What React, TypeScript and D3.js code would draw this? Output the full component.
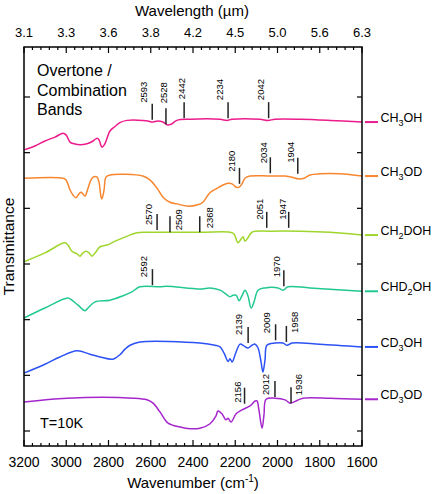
import React from "react";
import * as d3 from "d3";

// ---------- data ----------
const wavenumberTicks = [3200, 3000, 2800, 2600, 2400, 2200, 2000, 1800, 1600];
const wavelengthLabels = ["3.1", "3.3", "3.6", "3.8", "4.2", "4.5", "5.0", "5.6", "6.3"];
const yTicks = [0, 1, 2, 3, 4, 5, 6];

const seriesNames = ["CH3OH", "CH3OD", "CH2DOH", "CHD2OH", "CD3OH", "CD3OD"];
const seriesColors = ["#ec1c8c", "#f7862f", "#9fd62c", "#22c892", "#2c52f5", "#a526cc"];

const ch3oh: [number, number][] = [
  [3200, 5.05], [3148, 5.12], [3101, 5.21], [3053, 5.28], [3015, 5.35], [3001, 5.32],
  [2982, 5.19], [2963, 5.16], [2935, 5.14], [2902, 5.16], [2873, 5.21], [2854, 5.26],
  [2845, 5.23], [2831, 5.1], [2817, 5.16], [2793, 5.39], [2769, 5.47], [2746, 5.54],
  [2712, 5.58], [2637, 5.58], [2613, 5.57], [2594, 5.55], [2566, 5.57], [2542, 5.55],
  [2523, 5.5], [2504, 5.51], [2476, 5.58], [2414, 5.6], [2272, 5.6], [2239, 5.58],
  [2215, 5.6], [2083, 5.6], [2045, 5.58], [2012, 5.6], [1893, 5.6], [1751, 5.58], [1600, 5.55],
];
const ch3od: [number, number][] = [
  [3200, 4.54], [3015, 4.54], [3001, 4.51], [2982, 4.33], [2968, 4.24], [2954, 4.19],
  [2940, 4.26], [2930, 4.29], [2921, 4.26], [2911, 4.22], [2897, 4.36], [2883, 4.51],
  [2873, 4.56], [2854, 4.56], [2845, 4.47], [2835, 4.2], [2831, 4.17], [2821, 4.33],
  [2812, 4.56], [2793, 4.6], [2637, 4.58], [2604, 4.51], [2570, 4.36], [2542, 4.2],
  [2509, 4.11], [2476, 4.08], [2428, 4.04], [2381, 4.06], [2353, 4.11], [2320, 4.28],
  [2286, 4.36], [2258, 4.42], [2234, 4.45], [2215, 4.44], [2196, 4.38], [2182, 4.38],
  [2168, 4.44], [2154, 4.54], [2130, 4.58], [2035, 4.58], [1964, 4.58], [1931, 4.56],
  [1903, 4.53], [1874, 4.54], [1846, 4.6], [1799, 4.62], [1704, 4.62], [1600, 4.58],
];
const ch2doh: [number, number][] = [
  [3200, 3.04], [3101, 3.2], [3006, 3.38], [2992, 3.34], [2973, 3.23], [2949, 3.18],
  [2935, 3.14], [2921, 3.2], [2906, 3.23], [2892, 3.2], [2878, 3.14], [2859, 3.22],
  [2840, 3.31], [2807, 3.34], [2769, 3.41], [2731, 3.47], [2665, 3.56], [2618, 3.57],
  [2367, 3.57], [2225, 3.57], [2206, 3.54], [2187, 3.38], [2172, 3.45], [2163, 3.49],
  [2154, 3.41], [2140, 3.47], [2121, 3.57], [2035, 3.59], [1893, 3.59], [1751, 3.57], [1600, 3.52],
];
const chd2oh: [number, number][] = [
  [3200, 2.03], [3101, 2.21], [2992, 2.39], [2973, 2.35], [2944, 2.26], [2911, 2.16],
  [2897, 2.21], [2864, 2.32], [2793, 2.35], [2731, 2.43], [2689, 2.5], [2651, 2.59],
  [2556, 2.59], [2523, 2.6], [2367, 2.55], [2319, 2.57], [2272, 2.53], [2244, 2.46],
  [2225, 2.41], [2211, 2.44], [2196, 2.44], [2182, 2.34], [2168, 2.43], [2154, 2.53],
  [2140, 2.43], [2125, 2.21], [2111, 2.32], [2092, 2.53], [2059, 2.57], [1998, 2.57],
  [1974, 2.53], [1950, 2.59], [1846, 2.57], [1600, 2.51],
];
const cd3oh: [number, number][] = [
  [3200, 1.04], [3101, 1.2], [3030, 1.33], [2949, 1.44], [2888, 1.38], [2840, 1.33],
  [2779, 1.29], [2746, 1.37], [2722, 1.47], [2698, 1.54], [2651, 1.6], [2367, 1.58],
  [2296, 1.54], [2272, 1.51], [2253, 1.4], [2234, 1.25], [2225, 1.3], [2215, 1.24],
  [2196, 1.42], [2177, 1.56], [2159, 1.53], [2140, 1.49], [2121, 1.54], [2106, 1.56],
  [2092, 1.49], [2078, 1.24], [2069, 1.06], [2059, 1.28], [2050, 1.54], [2012, 1.58],
  [1974, 1.58], [1955, 1.54], [1931, 1.58], [1799, 1.56], [1600, 1.51],
];
const cd3od: [number, number][] = [
  [3200, 0.52], [2996, 0.59], [2684, 0.59], [2618, 0.56], [2589, 0.5], [2556, 0.34],
  [2518, 0.14], [2461, 0.07], [2414, 0.04], [2367, 0.05], [2319, 0.13], [2291, 0.27],
  [2282, 0.36], [2263, 0.31], [2244, 0.2], [2234, 0.23], [2220, 0.16], [2196, 0.31],
  [2168, 0.38], [2130, 0.45], [2106, 0.54], [2097, 0.54], [2088, 0.38], [2073, 0.05],
  [2064, 0.29], [2054, 0.57], [2012, 0.59], [1964, 0.56], [1941, 0.5], [1912, 0.54],
  [1879, 0.59], [1751, 0.59], [1600, 0.57],
];
const seriesData = [ch3oh, ch3od, ch2doh, chd2oh, cd3oh, cd3od];

// band markers: wavenumber, level of line foot
const bandWavenumbers = [2593, 2528, 2442, 2234, 2042, 2180, 2034, 1904, 2570, 2509, 2368, 2051, 1947, 2592, 1970, 2139, 2009, 1958, 2156, 2012, 1936];
const bandLevels = [5.59, 5.51, 5.62, 5.62, 5.62, 4.44, 4.63, 4.62, 3.61, 3.57, 3.57, 3.65, 3.65, 2.62, 2.6, 1.58, 1.63, 1.6, 0.49, 0.61, 0.5];
// label placement (px offsets: dx from line, dy from line foot)
const bandLabelDx = [-9, -2, -2, -8, -8, -8, -7, -7, -8, 9, 9.5, -7, -6, -8.5, -7, -9, -9, 8.5, -7, -9, 8];
const bandLabelDy = [-17, -21, -19, -18, -18, -12, -10, -11, -5, -2, -4, -8, -8, -8, -9, -8, -7, -9, -1, -2, -8];

// ---------- layout ----------
const W = 432, H = 494;
const L = 24, R = 362, T = 47, B = 446;
const FONT = "Arial, 'Liberation Sans', Helvetica, sans-serif";

function Formula({ name, x, y, size }: { name: string; x: number; y: number; size: number }) {
  const parts = name.match(/[A-Za-z]+|\d+/g) || [];
  const out: React.ReactNode[] = [];
  let shifted = false;
  parts.forEach((p, i) => {
    if (/\d/.test(p)) {
      out.push(<tspan key={i} fontSize={size * 0.72} dy={size * 0.3}>{p}</tspan>);
      shifted = true;
    } else {
      out.push(<tspan key={i} dy={shifted ? -size * 0.3 : 0}>{p}</tspan>);
      shifted = false;
    }
  });
  return (
    <text x={x} y={y} fontSize={size} fontFamily={FONT} dy="0.35em">{out}</text>
  );
}

export default function App() {
  const x = d3.scaleLinear().domain([3200, 1600]).range([L, R]);
  const y = d3.scaleLinear().domain([0, 6]).range([431, 97]);
  const line = d3
    .line<[number, number]>()
    .x((d) => x(d[0]))
    .y((d) => y(d[1]))
    .curve(d3.curveCatmullRom.alpha(0.5));

  const minor = d3.range(3200, 1599, -40);

  return (
    <svg width={W} height={H} style={{ position: "absolute", left: 0, top: 0, background: "#fff" }}>
      {/* curves */}
      {seriesData.map((s, i) => (
        <path key={i} d={line(s) || ""} fill="none" stroke={seriesColors[i]} strokeWidth={1.5} />
      ))}

      {/* frame */}
      <rect x={L} y={T} width={R - L} height={B - T} fill="none" stroke="#000" strokeWidth={1.5} />

      {/* bottom & top ticks */}
      {minor.map((w) => {
        const major = wavenumberTicks.includes(w);
        const len = major ? 6 : 3;
        return (
          <g key={w}>
            <line x1={x(w)} x2={x(w)} y1={B} y2={B - len} stroke="#000" strokeWidth={1.2} />
            <line x1={x(w)} x2={x(w)} y1={T} y2={T + len} stroke="#000" strokeWidth={1.2} />
          </g>
        );
      })}
      {wavenumberTicks.map((w) => (
        <text key={"b" + w} x={x(w)} y={466.5} fontSize={14} fontFamily={FONT} textAnchor="middle">{w}</text>
      ))}
      {wavenumberTicks.map((w, i) => (
        <text key={"t" + w} x={x(w)} y={37} fontSize={13} fontFamily={FONT} textAnchor="middle">{wavelengthLabels[i]}</text>
      ))}

      {/* y ticks */}
      {yTicks.map((v) => (
        <g key={v}>
          <line x1={L} x2={L + 6} y1={y(v)} y2={y(v)} stroke="#000" strokeWidth={1.2} />
          <line x1={R} x2={R - 5} y1={y(v)} y2={y(v)} stroke="#000" strokeWidth={1.2} />
        </g>
      ))}

      {/* axis titles */}
      <text x={192} y={16} fontSize={15} fontFamily={FONT} textAnchor="middle">Wavelength (µm)</text>
      <text x={193} y={488} fontSize={15} fontFamily={FONT} textAnchor="middle">
        Wavenumber (cm<tspan fontSize={10} dy={-6}>-1</tspan><tspan dy={6}>)</tspan>
      </text>
      <text transform={`translate(8.5,${(T + B) / 2}) rotate(-90)`} fontSize={15.5} fontFamily={FONT} textAnchor="middle" dy="0.35em">Transmittance</text>

      {/* annotations */}
      <text x={37} y={76} fontSize={16} fontFamily={FONT}>Overtone /</text>
      <text x={37} y={95.5} fontSize={16} fontFamily={FONT}>Combination</text>
      <text x={37} y={114.5} fontSize={16} fontFamily={FONT}>Bands</text>
      <text x={40} y={428} fontSize={14.5} fontFamily={FONT}>T=10K</text>

      {/* band markers */}
      {bandWavenumbers.map((w, i) => {
        const lx = x(w);
        const ly = y(bandLevels[i]);
        return (
          <g key={"m" + i}>
            <line x1={lx} x2={lx} y1={ly} y2={ly - 16} stroke="#222" strokeWidth={1.5} />
            <text
              transform={`translate(${lx + bandLabelDx[i]},${ly + bandLabelDy[i]}) rotate(-90)`}
              fontSize={9.5}
              fontFamily={FONT}
              dy="0.35em"
            >
              {w}
            </text>
          </g>
        );
      })}

      {/* legend */}
      {seriesNames.map((n, i) => {
        const s = seriesData[i];
        const ly = y(s[s.length - 1][1]);
        return (
          <g key={n}>
            <line x1={365} x2={378} y1={ly} y2={ly} stroke={seriesColors[i]} strokeWidth={2} />
            <Formula name={n} x={380.5} y={ly} size={12.5} />
          </g>
        );
      })}
    </svg>
  );
}
